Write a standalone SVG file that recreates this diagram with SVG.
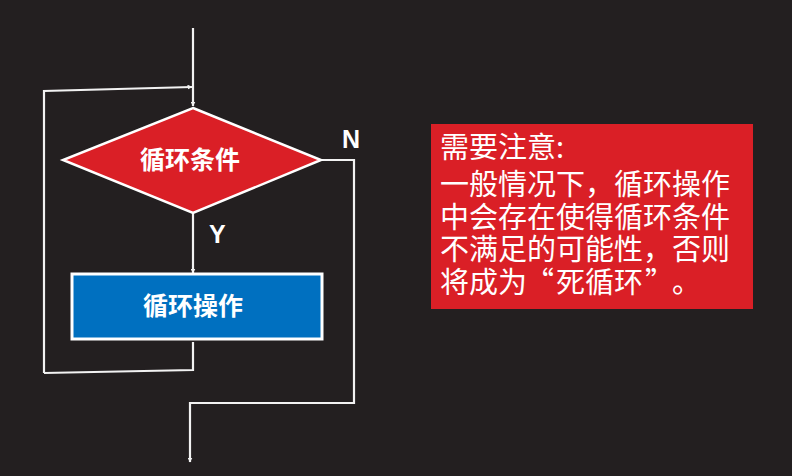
<svg xmlns="http://www.w3.org/2000/svg" width="792" height="476" viewBox="0 0 792 476">
<style>
.ln{fill:none;stroke:#F2F2F2;stroke-width:2.2}
.lbl{font-family:"Liberation Sans","Noto Sans CJK SC",sans-serif;font-weight:bold;fill:#FFFFFF}
.cjk{font-family:"Noto Sans CJK SC",sans-serif;fill:#FFFFFF}
</style>
<defs>
<marker id="ah" viewBox="0 0 10 10" refX="9" refY="5" markerWidth="5" markerHeight="5" orient="auto" markerUnits="userSpaceOnUse">
<path d="M0,0 L10,5 L0,10 z" fill="#F2F2F2"/>
</marker>
</defs>
<rect width="792" height="476" fill="#231F20"/>
<g id="connectors">
<path class="ln" d="M193,28 V106" marker-end="url(#ah)"/>
<path class="ln" d="M44,373 V91 L192,87" marker-end="url(#ah)"/>
<path class="ln" d="M193,213 V273" marker-end="url(#ah)"/>
<path class="ln" d="M193,342 V370 L44,373"/>
<path class="ln" d="M321,160 H354 V403 H190 V462" marker-end="url(#ah)"/>
<text class="lbl" x="342" y="148" font-size="25">N</text>
<text class="lbl" x="209" y="243" font-size="25">Y</text>
</g>
<g id="condition">
<polygon points="193,108 321,160 193,213 63,160" fill="#DA1F26" stroke="#FFFFFF" stroke-width="2.5"/>
<text class="cjk" x="190" y="169" font-size="25" font-weight="bold" text-anchor="middle">循环条件</text>
</g>
<g id="action">
<rect x="72" y="274" width="250" height="65" fill="#0070C0" stroke="#FFFFFF" stroke-width="3"/>
<text class="cjk" x="193" y="314.5" font-size="25" font-weight="bold" text-anchor="middle">循环操作</text>
</g>
<g id="note">
<rect x="431" y="124" width="322" height="185" fill="#DA1F26"/>
<text class="cjk" font-size="29">
<tspan x="440" y="158">需要注意:</tspan>
<tspan x="440" y="195">一般情况下，循环操作</tspan>
<tspan x="440" y="228">中会存在使得循环条件</tspan>
<tspan x="440" y="260">不满足的可能性，否则</tspan>
<tspan x="440" y="293">将成为</tspan>
</text>
<text class="cjk" font-size="29" x="554" y="293" text-anchor="end">“</text>
<text class="cjk" font-size="29" x="556" y="293">死循环</text>
<text class="cjk" font-size="29" x="645" y="293">”</text>
<text class="cjk" font-size="29" x="672" y="293">。</text>
</g>
</svg>
